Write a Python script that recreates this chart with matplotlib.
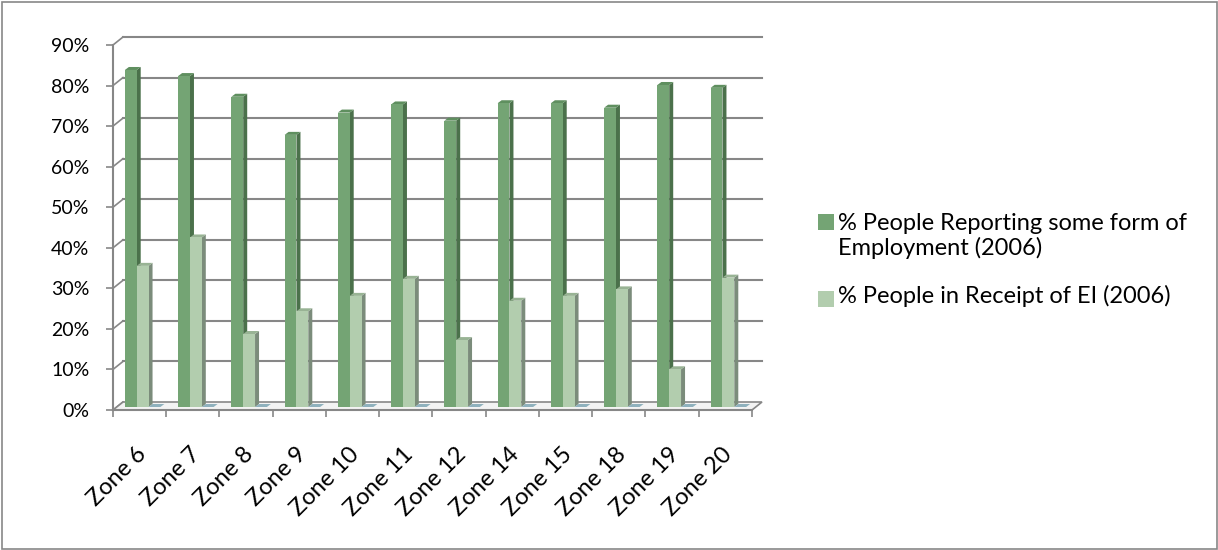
import matplotlib
matplotlib.use("Agg")
import matplotlib.pyplot as plt
import matplotlib.transforms as mtransforms
from matplotlib.patches import Rectangle, Polygon
import numpy as np

plt.rcParams["font.family"] = ["Lato", "DejaVu Sans"]

zones = ["Zone 6", "Zone 7", "Zone 8", "Zone 9", "Zone 10", "Zone 11",
         "Zone 12", "Zone 14", "Zone 15", "Zone 18", "Zone 19", "Zone 20"]
employment = [83.1, 81.6, 76.5, 67.1, 72.6, 74.6, 70.6, 74.9, 74.9, 73.8, 79.4, 78.7]
ei_receipt = [34.8, 41.8, 18.0, 23.6, 27.4, 31.6, 16.5, 26.2, 27.4, 29.0, 9.3, 31.9]
third_series = [0] * 12  # empty series, only its floor slab shows

series = [employment, ei_receipt, third_series]
labels = ["% People Reporting some form of\nEmployment (2006)",
          "% People in Receipt of EI (2006)"]
# front, side, top colours for each series
faces = [("#74a474", "#4b714b", "#5f8f5f"),
         ("#b2cdae", "#7b8c7b", "#98b394"),
         ("#8fb1bd", "#6d8d98", "#8fb1bd")]
grey = "#878787"

W, H = 1218, 550
fig = plt.figure(figsize=(W / 100, H / 100), dpi=100)
ax = fig.add_axes([113 / W, 140 / H, 639 / W, 365 / H])
n = len(zones)
ymax = 90
ax.set_xlim(0, n)
ax.set_ylim(0, ymax)

# data units per pixel
kx = n / 639
ky = ymax / 365

# back wall gridlines and the side-wall tick diagonals
wx, wy = 10 * kx, 8 * ky
for v in range(0, ymax + 1, 10):
    if v > 0:
        ax.plot([wx, n + wx], [v + wy, v + wy], color=grey, lw=1.5, zorder=1,
                clip_on=False)
    ax.plot([0, wx], [v, v + wy], color=grey, lw=1.2, zorder=1, clip_on=False)

# floor
ax.add_patch(Polygon([(0, 0), (n, 0), (n + wx, wy), (wx, wy)], closed=True,
                     facecolor="#f3f3f3", edgecolor=grey, lw=1.2, zorder=1,
                     clip_on=False))

# 3-D looking columns
w = 1 / 4.5
bx, by = 3 * kx, 3 * ky
dx, dy = 4 * kx, 3 * ky
for i in range(n):
    for j, vals in enumerate(series):
        v = vals[i]
        x0 = i + 0.75 * w + j * w + bx
        front, side, top = faces[j]
        z = 3 + i * 0.01 + j * 0.001
        if v > 0:
            ax.add_patch(Rectangle((x0, by), w, v, facecolor=front,
                                   edgecolor="none", zorder=z + 0.0003))
            ax.add_patch(Polygon([(x0 + w, by), (x0 + w, by + v),
                                  (x0 + w + dx, by + v + dy), (x0 + w + dx, by + dy)],
                                 closed=True, facecolor=side, edgecolor="none",
                                 zorder=z + 0.0001))
        ax.add_patch(Polygon([(x0, by + v), (x0 + w, by + v),
                              (x0 + w + dx, by + v + dy), (x0 + dx, by + v + dy)],
                             closed=True, facecolor=top, edgecolor="none",
                             zorder=z + 0.0002))

# axes styling
for s in ["top", "right"]:
    ax.spines[s].set_visible(False)
for s in ["left", "bottom"]:
    ax.spines[s].set_color(grey)
    ax.spines[s].set_linewidth(1.5)
    ax.spines[s].set_zorder(2)

ax.set_yticks(range(0, ymax + 1, 10))
ax.set_yticklabels([f"{v}%" for v in range(0, ymax + 1, 10)])
ax.tick_params(axis="y", length=5, width=1.2, color=grey, pad=12, labelsize=14)

ax.set_xticks(np.arange(n) + 0.5)
ax.set_xticklabels(zones, rotation=45, ha="right", va="top")
ax.set_xticks(np.arange(n + 1), minor=True)
ax.tick_params(axis="x", which="major", length=0, pad=24, labelsize=17)
ax.tick_params(axis="x", which="minor", length=5, width=1.2, color=grey)
off = mtransforms.ScaledTranslation(11 / 100, 0, fig.dpi_scale_trans)
for t in ax.get_xticklabels():
    t.set_transform(t.get_transform() + off)

# legend, drawn by hand so the square sits on the first text line
sq = 16
legend_y = [(222, 236), (299, 296)]  # square centre y, text centre y
for (sy, ty), lab, f in zip(legend_y, labels, faces):
    fig.add_artist(Rectangle((818 / W, 1 - (sy + sq / 2) / H), sq / W, sq / H,
                             transform=fig.transFigure, facecolor=f[0],
                             edgecolor="none"))
    fig.text(838 / W, 1 - ty / H, lab, fontsize=17, va="center", ha="left",
             linespacing=1.2)

# chart border
fig.add_artist(Rectangle((2 / W, 1 / H), 1 - 3 / W, 1 - 3 / H,
                         transform=fig.transFigure, fill=False,
                         edgecolor=grey, lw=1.2))

fig.savefig("out.png", dpi=100)
